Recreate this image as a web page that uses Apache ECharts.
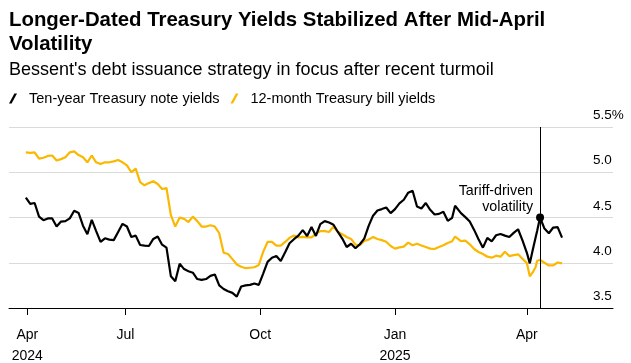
<!DOCTYPE html>
<html><head><meta charset="utf-8">
<script src="https://cdn.jsdelivr.net/npm/echarts@6/dist/echarts.min.js"></script>
<style>html,body{margin:0;padding:0;background:#fff}#c{width:631px;height:363px}</style>
</head><body><div id="c"></div>
<script>
const titleText = 'Longer-Dated Treasury Yields Stabilized After Mid-April\nVolatility';
const subtitleText = "Bessent's debt issuance strategy in focus after recent turmoil";
const seriesNames = ['Ten-year Treasury note yields', '12-month Treasury bill yields'];

const dates = [
 '2024-04-24','2024-04-27','2024-04-30','2024-05-03','2024-05-06','2024-05-09','2024-05-12','2024-05-15','2024-05-18','2024-05-21','2024-05-24','2024-05-27','2024-05-30','2024-06-02','2024-06-05','2024-06-08','2024-06-11','2024-06-14','2024-06-17','2024-06-20','2024-06-23','2024-06-26','2024-06-29','2024-07-02',
 '2024-07-05','2024-07-08','2024-07-11','2024-07-14','2024-07-17','2024-07-20','2024-07-23','2024-07-26','2024-07-29','2024-08-01','2024-08-04','2024-08-07','2024-08-10','2024-08-13','2024-08-16','2024-08-19','2024-08-22','2024-08-25','2024-08-28','2024-08-31','2024-09-03','2024-09-06','2024-09-09','2024-09-12',
 '2024-09-15','2024-09-18','2024-09-21','2024-09-24','2024-09-27','2024-09-30','2024-10-03','2024-10-06','2024-10-09','2024-10-12','2024-10-15','2024-10-18','2024-10-21','2024-10-24','2024-10-27','2024-10-30','2024-11-02','2024-11-05','2024-11-08','2024-11-11','2024-11-14','2024-11-17','2024-11-20','2024-11-23',
 '2024-11-26','2024-11-29','2024-12-02','2024-12-05','2024-12-08','2024-12-11','2024-12-14','2024-12-17','2024-12-20','2024-12-23','2024-12-26','2024-12-29','2025-01-01','2025-01-04','2025-01-07','2025-01-10','2025-01-13','2025-01-16','2025-01-19','2025-01-22','2025-01-25','2025-01-28','2025-01-31','2025-02-03',
 '2025-02-06','2025-02-09','2025-02-11','2025-02-15','2025-02-18','2025-02-21','2025-02-24','2025-02-27','2025-03-02','2025-03-05','2025-03-08','2025-03-11','2025-03-14','2025-03-17','2025-03-20','2025-03-23','2025-03-26','2025-03-29','2025-04-01',
 '2025-04-03','2025-04-05','2025-04-07','2025-04-08','2025-04-10','2025-04-13','2025-04-16','2025-04-19','2025-04-22','2025-04-25'
];

const tenYear = [
 4.72,4.65,4.66,4.51,4.47,4.49,4.49,4.40,4.455,4.46,4.49,4.574,4.55,4.41,4.315,4.474,4.35,4.23,4.27,4.255,4.25,4.34,4.43,4.40,
 4.285,4.30,4.196,4.19,4.185,4.263,4.29,4.20,4.167,3.85,3.796,3.99,3.93,3.907,3.89,3.82,3.81,3.82,3.855,3.87,3.75,3.71,3.685,3.667,
 3.626,3.737,3.75,3.755,3.77,3.755,3.88,4.01,4.055,4.074,4.02,4.115,4.215,4.26,4.30,4.36,4.296,4.396,4.296,4.426,4.46,4.444,4.42,4.34,
 4.267,4.174,4.21,4.16,4.204,4.267,4.407,4.52,4.578,4.593,4.61,4.548,4.593,4.656,4.696,4.774,4.796,4.622,4.60,4.66,4.585,4.533,4.54,4.563,
 4.463,4.496,4.63,4.548,4.504,4.455,4.363,4.26,4.167,4.274,4.237,4.304,4.318,4.30,4.285,4.33,4.37,4.248,4.11,
 3.993,4.141,4.283,4.352,4.50,4.378,4.326,4.389,4.393,4.278
];

const twelveMonth = [
 5.22,5.215,5.22,5.15,5.16,5.18,5.185,5.13,5.145,5.165,5.22,5.23,5.19,5.165,5.11,5.185,5.11,5.09,5.11,5.11,5.12,5.135,5.11,5.075,
 5.00,5.04,4.89,4.856,4.88,4.90,4.87,4.815,4.826,4.526,4.40,4.50,4.485,4.45,4.51,4.46,4.40,4.40,4.415,4.40,4.326,4.11,4.096,4.04,
 3.98,3.955,3.94,3.945,3.95,3.975,4.12,4.23,4.23,4.19,4.19,4.23,4.275,4.30,4.28,4.285,4.28,4.28,4.32,4.35,4.35,4.34,4.40,4.34,
 4.315,4.285,4.263,4.20,4.193,4.24,4.255,4.285,4.263,4.25,4.233,4.185,4.156,4.17,4.178,4.222,4.193,4.21,4.19,4.174,4.156,4.152,4.174,4.193,
 4.219,4.237,4.29,4.24,4.244,4.204,4.152,4.119,4.096,4.067,4.056,4.078,4.067,4.122,4.074,4.085,4.093,4.044,3.996,
 3.85,3.893,3.952,4.022,4.03,4.0,3.97,3.97,4.003,3.993
];

const xTickDates = ['2024-04-25','2024-07-01','2024-10-01','2025-01-01','2025-04-01'];
const xTickLabels = ['Apr\n2024','Jul','Oct','Jan\n2025','Apr'];
const xRange = ['2024-04-12T12:00:00Z','2025-05-29T19:00:00Z'];
const yRange = [3.5, 5.5];
const yStep = 0.5;
const yUnit = '%';
const annotationDate = '2025-04-10';
const annotationText = 'Tariff-driven\nvolatility';

const FONT = "'Liberation Sans', Arial, Helvetica, sans-serif";
const BLACK = '#000000';
const YELLOW = '#fbb800';

const ts = d => Date.parse(d);
const tickTs = xTickDates.map(ts);
const labelFor = {};
tickTs.forEach((t, i) => { labelFor[t] = xTickLabels[i]; });

const annIdx = dates.indexOf(annotationDate);
const annTs = ts(annotationDate);

const chart = echarts.init(document.getElementById('c'), null, {renderer: 'canvas'});
chart.setOption({
  animation: false,
  backgroundColor: '#ffffff',
  textStyle: {fontFamily: FONT},
  title: [
    {text: titleText, left: 9, top: 8, padding: 0,
     textStyle: {fontFamily: FONT, fontSize: 20.4, fontWeight: 'bold', color: '#000', lineHeight: 24.3}},
    {text: subtitleText, left: 9, top: 60, padding: 0,
     textStyle: {fontFamily: FONT, fontSize: 18, fontWeight: 'normal', color: '#000', lineHeight: 20}}
  ],
  legend: {
    left: 9, top: 91, padding: 0, itemGap: 11,
    itemWidth: 8, itemHeight: 11,
    icon: 'path://M0,10 L5.4,0 L8,0 L2.6,10 Z',
    textStyle: {fontFamily: FONT, fontSize: 14.5, color: '#000', padding: [0, 0, 0, 7]},
    data: seriesNames.map((n, i) => ({name: n, itemStyle: {color: i === 0 ? BLACK : YELLOW}}))
  },
  grid: {left: 9, right: 18, top: 127, bottom: 55, containLabel: false, outerBoundsMode: 'none'},
  xAxis: {
    type: 'value',
    min: ts(xRange[0]), max: ts(xRange[1]),
    axisLine: {show: true, lineStyle: {color: '#000', width: 1}},
    axisTick: {show: true, length: 7, lineStyle: {color: '#000', width: 1}, customValues: tickTs},
    axisLabel: {show: true, customValues: tickTs, margin: 17, fontSize: 14, lineHeight: 21,
                color: '#000', fontFamily: FONT, formatter: v => labelFor[v] || ''},
    splitLine: {show: false}
  },
  yAxis: {
    type: 'value', position: 'right',
    min: yRange[0], max: yRange[1], interval: yStep,
    axisLine: {show: false}, axisTick: {show: false},
    splitLine: {show: true, lineStyle: {color: '#dadada', width: 1}},
    axisLabel: {inside: true, align: 'left', margin: 20, verticalAlign: 'bottom', lineHeight: 23,
                fontSize: 13.5, color: '#000', fontFamily: FONT,
                formatter: v => v === yRange[1] ? v.toFixed(1) + yUnit : v.toFixed(1)}
  },
  series: [
    {
      name: seriesNames[1], type: 'line', showSymbol: false, symbol: 'none',
      color: YELLOW, lineStyle: {color: YELLOW, width: 2.2}, z: 2,
      data: dates.map((d, i) => [ts(d), twelveMonth[i]])
    },
    {
      name: seriesNames[0], type: 'line', showSymbol: false, symbol: 'none',
      color: BLACK, lineStyle: {color: BLACK, width: 2.2}, z: 3,
      data: dates.map((d, i) => [ts(d), tenYear[i]]),
      markLine: {
        silent: true, symbol: ['none', 'none'], animation: false,
        label: {show: false},
        lineStyle: {color: '#000', width: 1, type: 'solid'},
        emphasis: {disabled: true},
        data: [{xAxis: annTs}]
      },
      markPoint: {
        silent: true, animation: false,
        symbol: 'circle', symbolSize: 8,
        itemStyle: {color: '#000'},
        label: {show: true, position: [-3, -30], align: 'right', verticalAlign: 'top',
                formatter: annotationText, fontSize: 14.3, lineHeight: 16, color: '#000', fontFamily: FONT},
        data: [{coord: [annTs, tenYear[annIdx]]}]
      }
    }
  ]
});
</script>
</body></html>
